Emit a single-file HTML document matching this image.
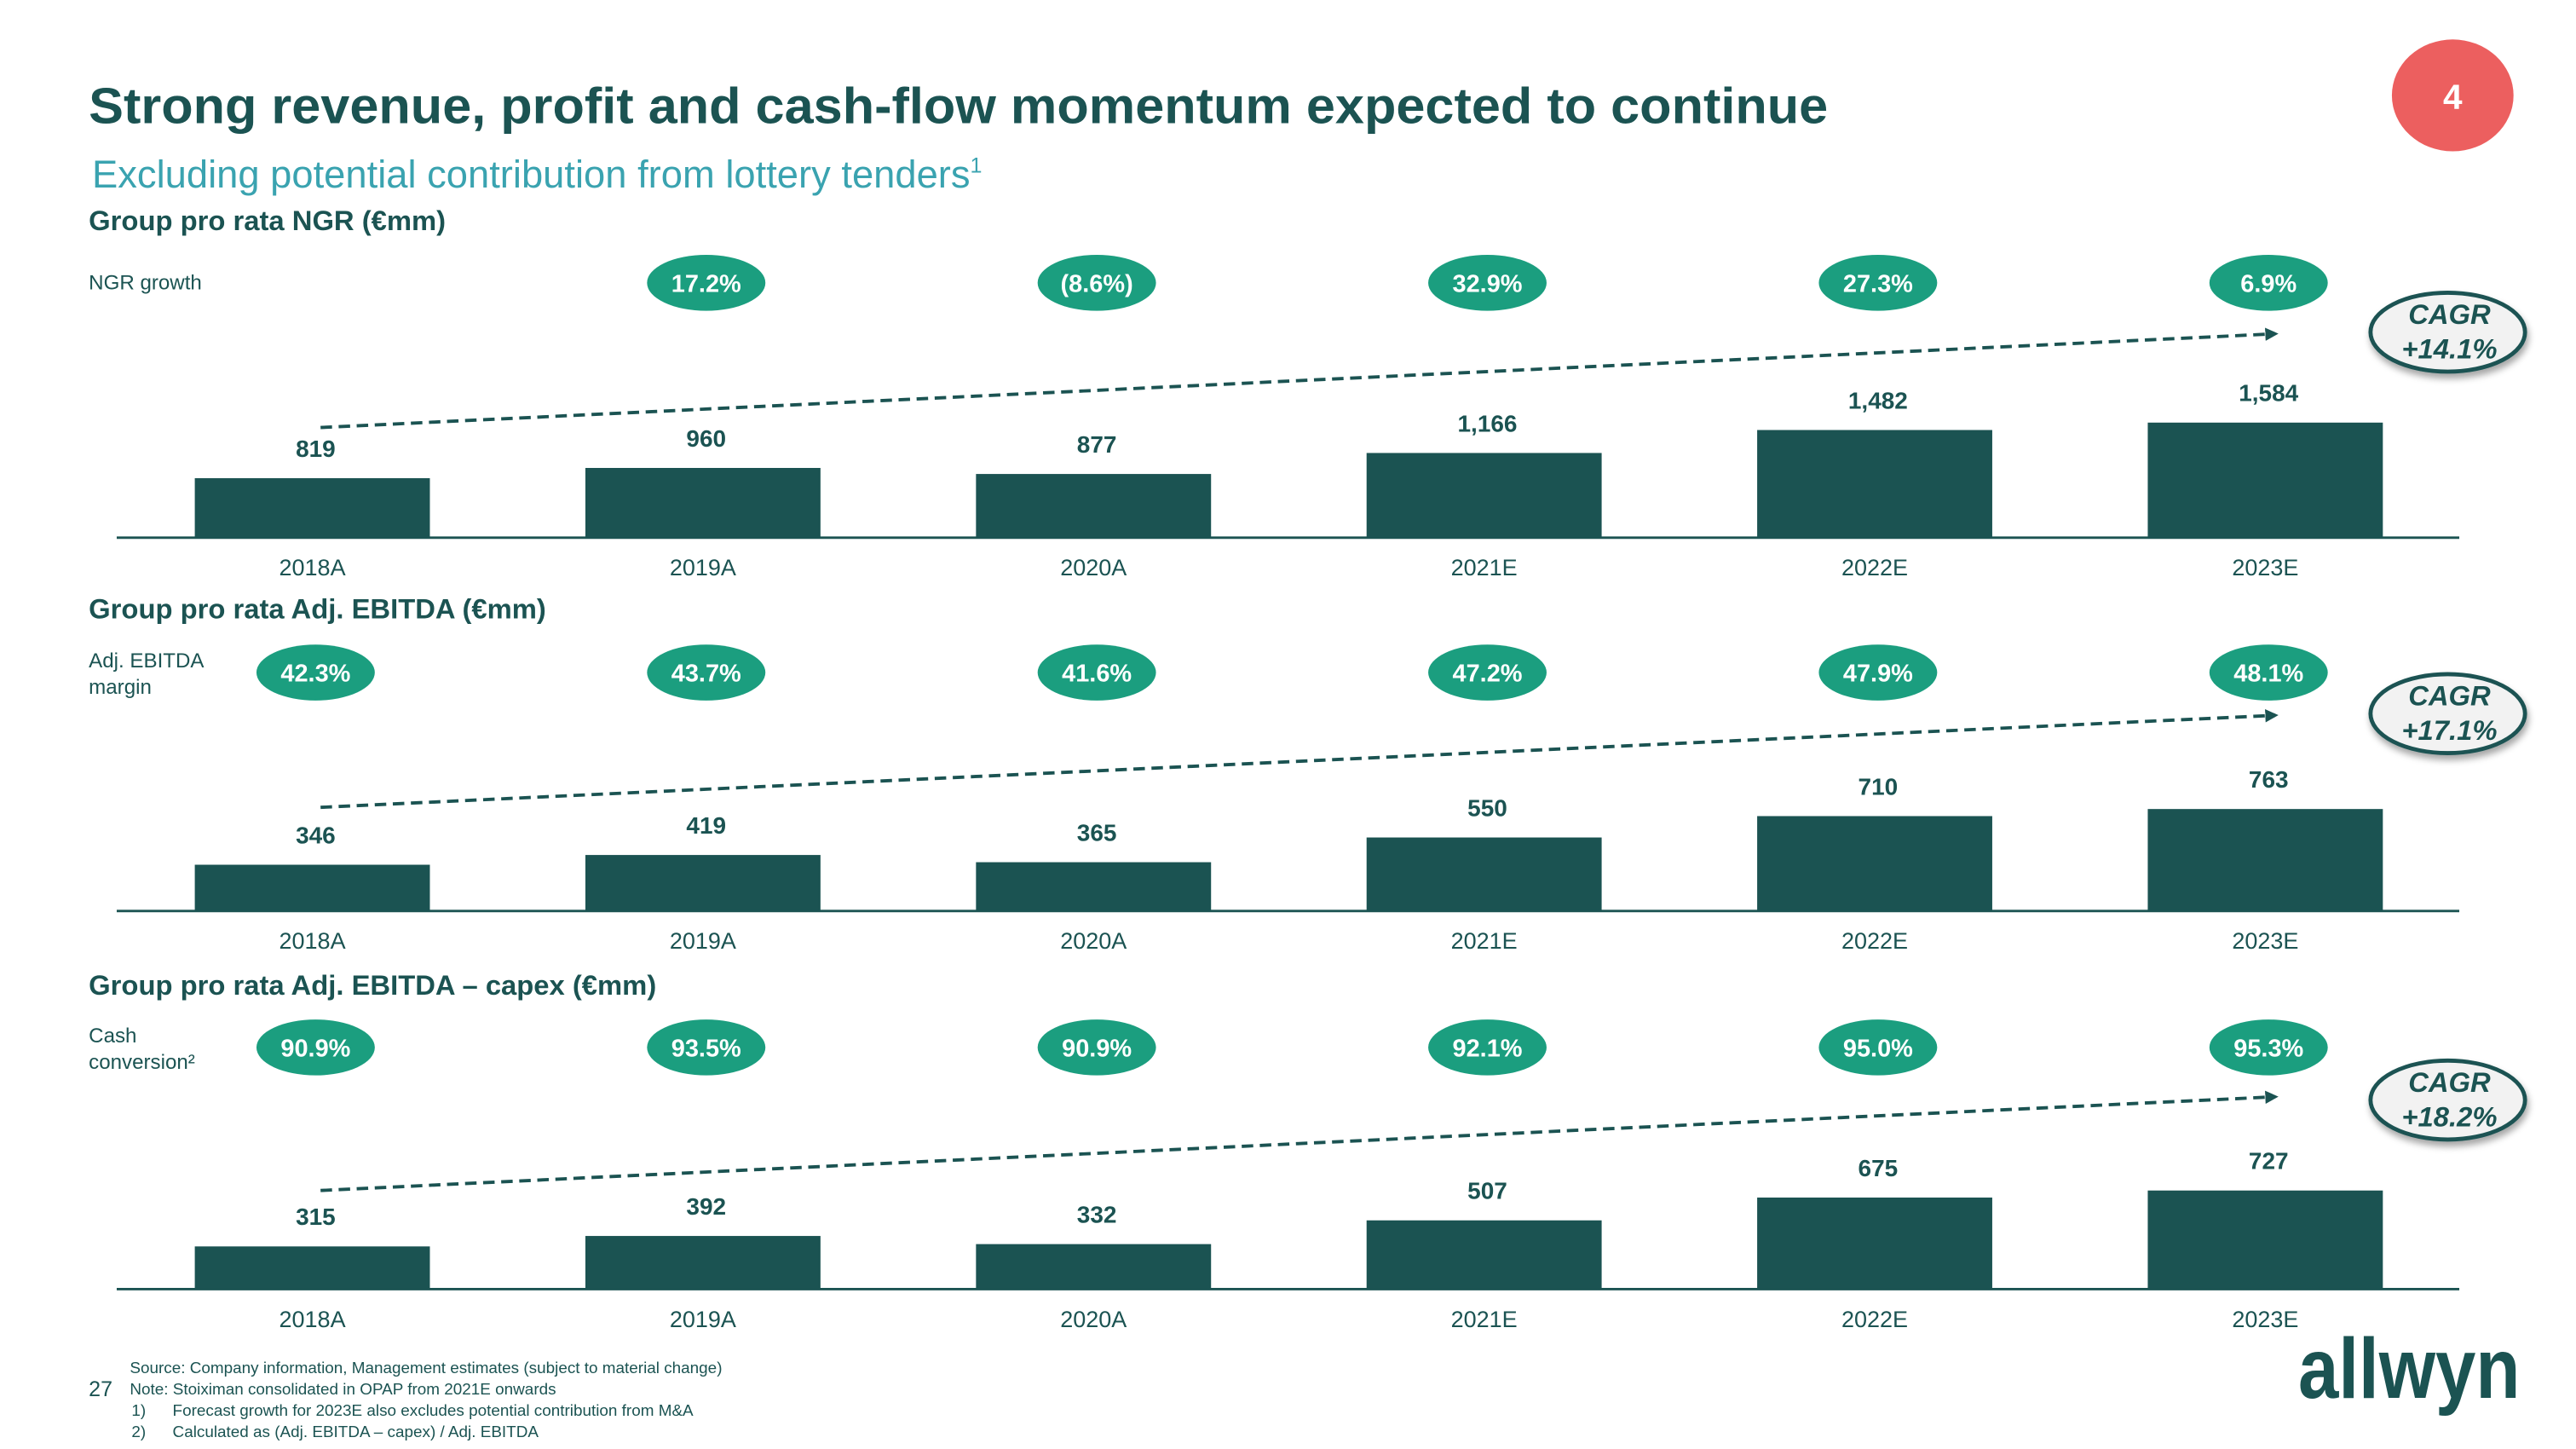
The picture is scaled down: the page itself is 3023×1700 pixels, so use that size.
<!DOCTYPE html>
<html><head><meta charset="utf-8"><style>
html,body{margin:0;padding:0;background:#fff;}
svg{display:block;}
text{font-family:"Liberation Sans",Arial,sans-serif;}
</style></head><body>
<svg id="chart" width="3023" height="1700" viewBox="0 0 1567 881.2" xmlns="http://www.w3.org/2000/svg">
<defs>
<filter id="sh" x="-20%" y="-20%" width="140%" height="160%"><feDropShadow dx="1" dy="3" stdDeviation="2" flood-color="#000" flood-opacity="0.35"/></filter>
<marker id="arr" markerWidth="8" markerHeight="8" refX="6" refY="4" orient="auto" markerUnits="userSpaceOnUse"><path d="M0,0 L8,4 L0,8 z" fill="#1b5352"/></marker>
</defs>
<text x="54" y="75" font-size="31" font-weight="bold" fill="#1b5352" textLength="1058" lengthAdjust="spacingAndGlyphs">Strong revenue, profit and cash-flow momentum expected to continue</text>
<ellipse cx="1492" cy="58" rx="37" ry="34" fill="#ec5f5f"/>
<text x="1492" y="66" font-size="21" font-weight="bold" fill="#fff" text-anchor="middle">4</text>
<text x="56" y="114" font-size="23.5" fill="#3aa3b0">Excluding potential contribution from lottery tenders<tspan font-size="13" dy="-9">1</tspan></text>
<g id="panels"></g>
<text x="54" y="849" font-size="13" fill="#1b5352">27</text>
<g font-size="9.8" fill="#1b5352">
<text x="79" y="835">Source: Company information, Management estimates (subject to material change)</text>
<text x="79" y="848">Note: Stoiximan consolidated in OPAP from 2021E onwards</text>
<text x="80" y="861">1)</text><text x="105" y="861">Forecast growth for 2023E also excludes potential contribution from M&amp;A</text>
<text x="80" y="874">2)</text><text x="105" y="874">Calculated as (Adj. EBITDA – capex) / Adj. EBITDA</text>
</g>
<text x="1398" y="850" font-size="52" font-weight="bold" fill="#1b5352" textLength="135" lengthAdjust="spacingAndGlyphs">allwyn</text>
</svg>
<script>
const categories = ["2018A","2019A","2020A","2021E","2022E","2023E"];
const ngrValues = [819,960,877,1166,1482,1584];
const ngrLabels = ["819","960","877","1,166","1,482","1,584"];
const ngrGrowth = [null,"17.2%","(8.6%)","32.9%","27.3%","6.9%"];
const ebitdaValues = [346,419,365,550,710,763];
const ebitdaLabels = ["346","419","365","550","710","763"];
const ebitdaMargin = ["42.3%","43.7%","41.6%","47.2%","47.9%","48.1%"];
const fcfValues = [315,392,332,507,675,727];
const fcfLabels = ["315","392","332","507","675","727"];
const cashConversion = ["90.9%","93.5%","90.9%","92.1%","95.0%","95.3%"];
const cagrLabels = ["+14.1%","+17.1%","+18.2%"];

const NS="http://www.w3.org/2000/svg";
const root=document.getElementById('panels');
function mk(tag,attrs,parent,txt){const e=document.createElementNS(NS,tag);for(const k in attrs)e.setAttribute(k,attrs[k]);if(txt!=null)e.textContent=txt;(parent||root).appendChild(e);return e;}
function xScale(i){return 190+i*237.6;}

const panels=[
 {title:"Group pro rata NGR (€mm)",titleY:140,side:["NGR growth"],sideY:176,pillY:172,base:327,maxH:70,vals:ngrValues,labs:ngrLabels,pills:ngrGrowth,dash:[260,203],cagrY:202,cagr:cagrLabels[0],key:"ngr"},
 {title:"Group pro rata Adj. EBITDA (€mm)",titleY:376,side:["Adj. EBITDA","margin"],sideY:406,pillY:409,base:554,maxH:62,vals:ebitdaValues,labs:ebitdaLabels,pills:ebitdaMargin,dash:[491,435],cagrY:434,cagr:cagrLabels[1],key:"ebitda"},
 {title:"Group pro rata Adj. EBITDA – capex (€mm)",titleY:605,side:["Cash","conversion²"],sideY:634,pillY:637,base:784,maxH:60,vals:fcfValues,labs:fcfLabels,pills:cashConversion,dash:[724,667],cagrY:669,cagr:cagrLabels[2],key:"fcf"}
];
panels.forEach(p=>{
 const g=mk('g',{});
 
 
 const t=mk('text',{x:54,y:p.titleY,'font-size':17,'font-weight':'bold',fill:'#1b5352'},g,p.title);
 
 
 p.side.forEach((s,j)=>{const st=mk('text',{x:54,y:p.sideY+j*16,'font-size':12.5,fill:'#1b5352'},g,s);
  
  });
 const max=Math.max(...p.vals);
 const yS=v=>p.base - v/max*p.maxH;
 p.vals.forEach((v,i)=>{
  const cx=xScale(i), top=yS(v);
  const b=mk('rect',{x:cx-71.5,y:top,width:143,height:p.base-top,fill:'#1b5352'},g);
  
  
  const l=mk('text',{x:cx+2,y:top-13,'font-size':14.5,'font-weight':'bold',fill:'#1b5352','text-anchor':'middle'},g,p.labs[i]);
  
  
  const c=mk('text',{x:cx,y:p.base+23,'font-size':14,fill:'#1b5352','text-anchor':'middle'},g,categories[i]);
  
  
  if(p.pills[i]){
   const pe=mk('ellipse',{cx:cx+2,cy:p.pillY,rx:36,ry:17,fill:'#1b9e7f'},g);
   
   
   const pt=mk('text',{x:cx+2,y:p.pillY+5.5,'font-size':15,'font-weight':'bold',fill:'#fff','text-anchor':'middle'},g,p.pills[i]);
   
   
  }
 });
 const ax=mk('line',{x1:71,x2:1496,y1:p.base,y2:p.base,stroke:'#1b5352','stroke-width':1.5},g);
 
 
 const d=mk('line',{x1:195,y1:p.dash[0],x2:1384,y2:p.dash[1],stroke:'#1b5352','stroke-width':2,'stroke-dasharray':'7,4','marker-end':'url(#arr)'},g);
 
 
 const ce=mk('ellipse',{cx:1489,cy:p.cagrY,rx:47,ry:24,fill:'#f2f2f2',stroke:'#1b5352','stroke-width':2.5,filter:'url(#sh)'},g);
 
 
 const c1=mk('text',{x:1490,y:p.cagrY-5,'font-size':17,'font-weight':'bold','font-style':'italic',fill:'#1b5352','text-anchor':'middle'},g,'CAGR');
 
 
 const c2=mk('text',{x:1490,y:p.cagrY+16,'font-size':17,'font-weight':'bold','font-style':'italic',fill:'#1b5352','text-anchor':'middle'},g,p.cagr);
 
 
});
</script>
</body></html>
